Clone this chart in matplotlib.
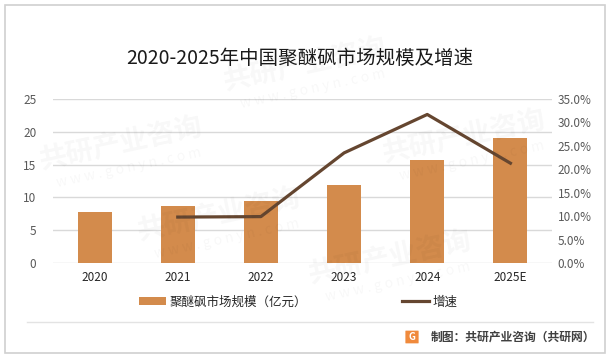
import matplotlib
matplotlib.use('Agg')
import matplotlib.pyplot as plt
from matplotlib.patches import Rectangle, Patch, FancyBboxPatch
from matplotlib.lines import Line2D
from matplotlib.ticker import FuncFormatter

plt.rcParams['font.family'] = ['Noto Sans CJK SC', 'DejaVu Sans']

years = ['2020', '2021', '2022', '2023', '2024', '2025E']
market_size = [7.8, 8.7, 9.5, 11.9, 15.7, 19.1]      # 亿元
growth_years = ['2021', '2022', '2023', '2024', '2025E']
growth_rate = [0.098, 0.099, 0.235, 0.317, 0.213]

bar_color = '#D38B4C'
line_color = '#654630'
grid_color = '#D9D9D9'
tick_color = '#595959'

fig = plt.figure(figsize=(6.12, 3.57), dpi=100)
fig.patches.append(Rectangle((5 / 612, 1 - 353 / 357), 600 / 612, 348 / 357,
                             transform=fig.transFigure, fill=False,
                             edgecolor='#D0D0D0', linewidth=1.2))

# faint watermarks
for wx, wy in [(0.06, 0.60), (0.36, 0.82), (0.62, 0.62),
               (0.22, 0.40), (0.50, 0.28)]:
    fig.text(wx, wy, '共研产业咨询', fontsize=20, fontweight='bold', color='#000000',
             alpha=0.03, rotation=12, ha='left', va='center')
    fig.text(wx + 0.03, wy - 0.07, 'w w w . g o n y n . c o m', fontsize=10,
             color='#000000', alpha=0.03, rotation=12, ha='left', va='center')

ax = fig.add_axes([53 / 612, 1 - 263 / 357, 499 / 612, 164 / 357])
x = list(range(len(years)))
ax.bar(x, market_size, width=0.41, color=bar_color, zorder=3)
ax.set_xlim(-0.5, len(years) - 0.5)
ax.set_ylim(0, 25)
ax.set_yticks([0, 5, 10, 15, 20, 25])
ax.set_xticks(x)
ax.set_xticklabels(years)
ax.yaxis.grid(True, color=grid_color, linewidth=1, zorder=0)
ax.set_axisbelow(True)
for s in ax.spines.values():
    s.set_visible(False)
ax.tick_params(axis='both', length=0, labelsize=8.5)
ax.tick_params(axis='y', colors=tick_color, pad=12)
ax.tick_params(axis='x', colors='#262626', pad=6)

ax2 = ax.twinx()
gx = [years.index(y) for y in growth_years]
ax2.plot(gx, growth_rate, color=line_color, linewidth=2.3, zorder=4)
ax2.set_ylim(0, 0.35)
ax2.set_yticks([i * 0.05 for i in range(8)])
ax2.yaxis.set_major_formatter(FuncFormatter(lambda v, p: f'{v * 100:.1f}%'))
for s in ax2.spines.values():
    s.set_visible(False)
ax2.tick_params(axis='y', length=0, labelsize=8.5, colors=tick_color, pad=4)

fig.text(0.49, 1 - 58 / 357, '2020-2025年中国聚醚砜市场规模及增速', fontsize=14,
         color='#1A1A1A', ha='center', va='center')

handles = [Patch(facecolor=bar_color, edgecolor='none'),
           Line2D([], [], color=line_color, linewidth=2.3)]
fig.legend(handles, ['聚醚砜市场规模（亿元）', '增速'], loc='center',
           bbox_to_anchor=(0.487, 1 - 302 / 357), ncol=2, frameon=False,
           fontsize=9, handlelength=2.2, handleheight=0.6, handletextpad=0.25,
           columnspacing=7.6, labelcolor='#262626')

# footer
fig.add_artist(Line2D([27 / 612, 593 / 612], [1 - 322 / 357, 1 - 322 / 357],
                      transform=fig.transFigure, color='#E3E3E3', linewidth=1))
fig.patches.append(FancyBboxPatch((406 / 612, 1 - 343 / 357), 12 / 612, 12 / 357,
                                  boxstyle='round,pad=0.001', transform=fig.transFigure,
                                  facecolor='#F08A3C', edgecolor='none'))
fig.text(412 / 612, 1 - 337 / 357, 'G', fontsize=7, fontweight='bold', color='white',
         ha='center', va='center')
fig.text(595 / 612, 1 - 337 / 357, '制图：共研产业咨询（共研网）', fontsize=8.5,
         fontweight='bold', color='#404040', ha='right', va='center')

fig.savefig('out.png', dpi=100)
